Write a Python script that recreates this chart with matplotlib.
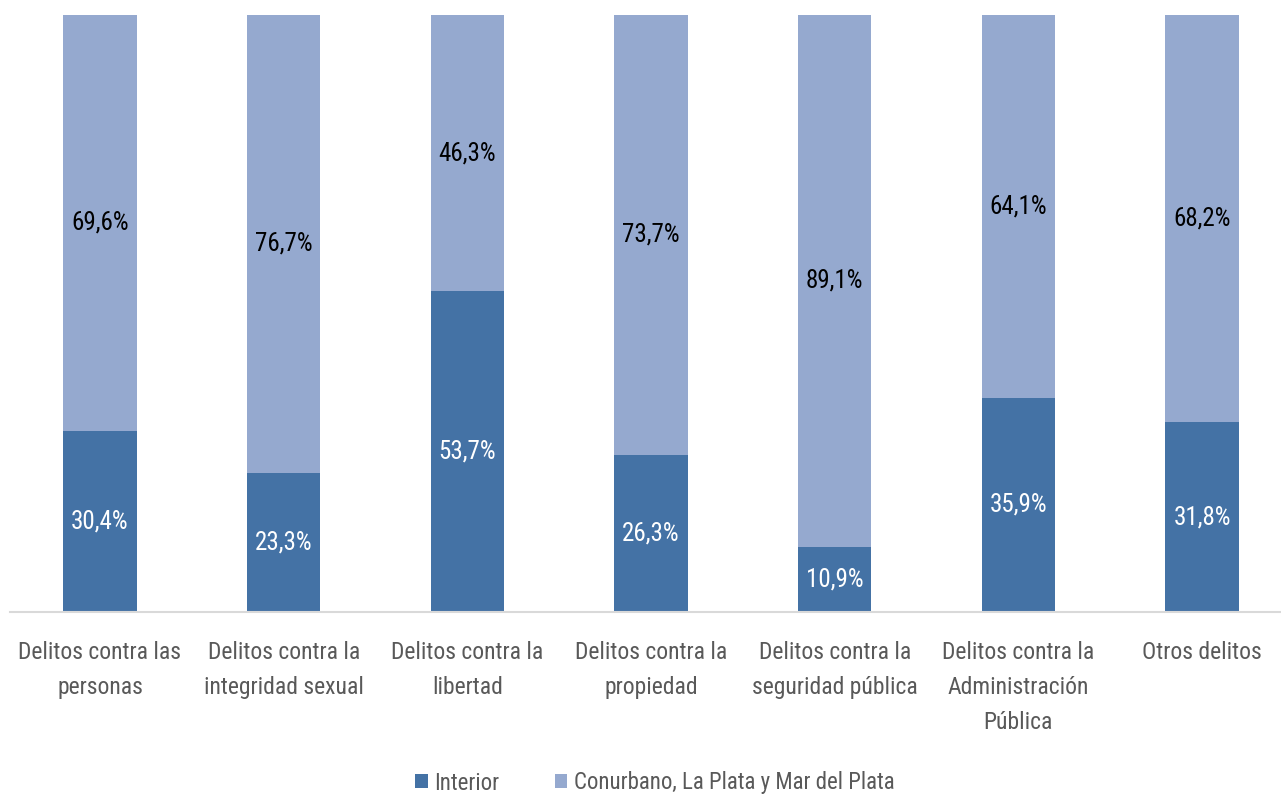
import matplotlib
matplotlib.use("Agg")
import matplotlib.pyplot as plt
from matplotlib import font_manager as fm

categories = ["Delitos contra las\npersonas", "Delitos contra la\nintegridad sexual",
              "Delitos contra la\nlibertad", "Delitos contra la\npropiedad",
              "Delitos contra la\nseguridad pública", "Delitos contra la\nAdministración\nPública",
              "Otros delitos"]
interior = [30.4, 23.3, 53.7, 26.3, 10.9, 35.9, 31.8]
conurbano = [69.6, 76.7, 46.3, 73.7, 89.1, 64.1, 68.2]
series_names = ["Interior", "Conurbano, La Plata y Mar del Plata"]

names = {f.name for f in fm.fontManager.ttflist}
stretch = "normal"
if "Roboto Condensed" in names:
    fam = "Roboto Condensed"
else:
    fam = "DejaVu Sans"
    stretch = "condensed"
plt.rcParams['font.family'] = [fam, 'DejaVu Sans']
plt.rcParams['font.stretch'] = stretch

c_int = "#4472A5"
c_con = "#95A9CF"

fig = plt.figure(figsize=(12.81, 7.96), dpi=100)
ax = fig.add_axes([10/1281, 1 - 612/796, 1 - 10/1281, (612-15)/796])
x = list(range(len(categories)))
w = 0.4
ax.bar(x, interior, w, color=c_int, label=series_names[0])
ax.bar(x, conurbano, w, bottom=interior, color=c_con, label=series_names[1])
for i in x:
    ax.text(i, interior[i]/2, f"{interior[i]:.1f}%".replace(".", ","), ha="center", va="center",
            color="white", fontsize=18)
    ax.text(i, interior[i] + conurbano[i]/2, f"{conurbano[i]:.1f}%".replace(".", ","), ha="center",
            va="center", color="black", fontsize=18)
ax.set_xlim(-0.49, 6.43)
ax.set_ylim(0, 100)
ax.set_yticks([])
for s in ["top", "right", "left"]:
    ax.spines[s].set_visible(False)
ax.spines["bottom"].set_color("#D9D9D9")
ax.spines["bottom"].set_linewidth(1.5)
ax.set_xticks(x)
ax.set_xticklabels(categories, fontsize=17, color="#595959", linespacing=1.65, va="top")
ax.tick_params(axis="x", length=0, pad=21)
leg = fig.legend(loc="center", bbox_to_anchor=(655/1281, 1 - 783/796), ncol=2, frameon=False,
                 fontsize=16.5, handlelength=0.55, handleheight=0.55, columnspacing=2.4,
                 handletextpad=0.3)
for t in leg.get_texts():
    t.set_color("#595959")
fig.savefig("out.png", dpi=100)
